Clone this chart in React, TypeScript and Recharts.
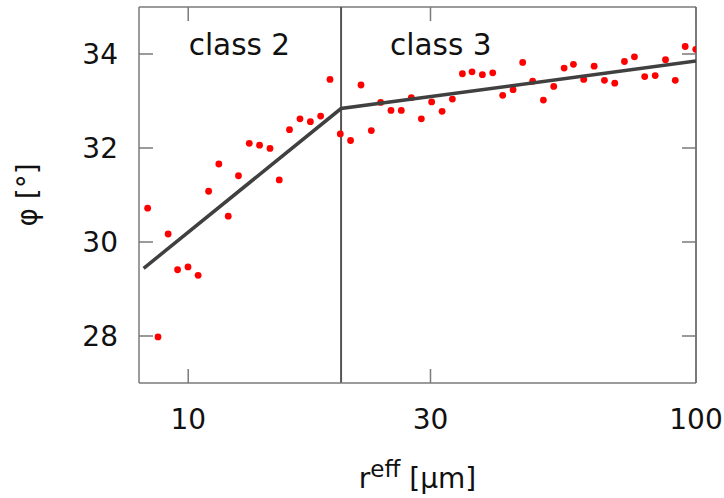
import React from "react";
import {
  ScatterChart,
  Scatter,
  XAxis,
  YAxis,
  ReferenceLine,
  Label,
} from "recharts";

// effective radius [µm]
const radius = [
  8.32, 8.72, 9.13, 9.53, 9.99, 10.46, 10.97, 11.49, 11.99, 12.56, 13.19,
  13.82, 14.49, 15.11, 15.83, 16.6, 17.4, 18.23, 19.02, 19.93, 20.88, 21.89,
  22.94, 23.93, 25.08, 26.28, 27.5, 28.78, 30.16, 31.62, 33.13, 34.67, 36.22,
  37.96, 39.78, 41.62, 43.63, 45.57, 47.68, 50.06, 52.46, 54.99, 57.36, 60.1,
  63.01, 66.02, 69.18, 72.29, 75.64, 79.25, 83.11, 87.09, 91.02, 95.22, 99.9,
];
// friction angle [°]
const phi = [
  30.72, 27.98, 30.17, 29.41, 29.47, 29.29, 31.08, 31.66, 30.55, 31.41, 32.1,
  32.06, 31.99, 31.32, 32.39, 32.62, 32.56, 32.68, 33.46, 32.3, 32.16, 33.34,
  32.37, 32.97, 32.8, 32.8, 33.07, 32.62, 32.98, 32.78, 33.04, 33.58, 33.62,
  33.56, 33.6, 33.12, 33.24, 33.82, 33.42, 33.02, 33.31, 33.7, 33.78, 33.46,
  33.74, 33.44, 33.38, 33.84, 33.94, 33.52, 33.54, 33.88, 33.44, 34.16, 34.1,
];
// piecewise fit: class 2 up to the break, class 3 after it
const fitR = [8.17, 20, 100];
const fitPhi = [29.44, 32.84, 33.85];
const classBreak = 20;

const xDomain = [8, 100];
const yDomain = [27, 35];
const xTicks = [10, 30, 100];
const yTicks = [28, 30, 32, 34];

const points = radius.map((r, i) => ({ r, phi: phi[i] }));
const fit = fitR.map((r, i) => ({ r, phi: fitPhi[i] }));

const W = 724;
const H = 498;
const M = { top: 7, right: 28, bottom: 0, left: 0 };
const Y_AXIS_W = 139;
const X_AXIS_H = 115;
const PLOT_TOP = M.top;
const PLOT_RIGHT = W - M.right;
const TICK = 14;

const FONT = "DejaVu Sans, sans-serif";
const FRAME = "#7a7a7a";

// label outside, tick marks inside on both the left and right border
const YTick = ({ x, y, payload }: any) => (
  <g>
    <line x1={x + 21} x2={x + 21 + TICK} y1={y} y2={y} stroke={FRAME} strokeWidth={1.5} />
    <line x1={PLOT_RIGHT} x2={PLOT_RIGHT - TICK} y1={y} y2={y} stroke={FRAME} strokeWidth={1.5} />
    <text x={x} y={y} dy={10.2} textAnchor="end" fontSize={28} fontFamily={FONT} fill="#111">
      {payload.value}
    </text>
  </g>
);

// label below, tick marks inside on both the bottom and top border
const XTick = ({ x, y, payload }: any) => (
  <g>
    <line x1={x} x2={x} y1={y - 26} y2={y - 26 - TICK} stroke={FRAME} strokeWidth={1.5} />
    <line x1={x} x2={x} y1={PLOT_TOP} y2={PLOT_TOP + TICK} stroke={FRAME} strokeWidth={1.5} />
    <text x={x} y={y + 20.4} textAnchor="middle" fontSize={28} fontFamily={FONT} fill="#111">
      {payload.value}
    </text>
  </g>
);

const Dot = ({ cx, cy }: any) => <circle cx={cx} cy={cy} r={3.4} fill="#ff0000" />;

const ClassLabels = ({ viewBox }: any) => (
  <g fontSize={29.5} fontFamily={FONT} fill="#111">
    <text x={viewBox.x - 51} y={viewBox.y + 48} textAnchor="end">
      class 2
    </text>
    <text x={viewBox.x + 49} y={viewBox.y + 48} textAnchor="start">
      class 3
    </text>
  </g>
);

const YTitle = ({ viewBox }: any) => {
  const cx = 37;
  const cy = viewBox.y + viewBox.height / 2;
  return (
    <text
      x={cx}
      y={cy}
      transform={`rotate(-90, ${cx}, ${cy})`}
      textAnchor="middle"
      fontSize={28}
      fontFamily={FONT}
      fill="#111"
    >
      φ [°]
    </text>
  );
};

const XTitle = ({ viewBox }: any) => (
  <text
    x={viewBox.x + viewBox.width / 2}
    y={488}
    textAnchor="middle"
    fontSize={28}
    fontFamily={FONT}
    fill="#111"
  >
    r
    <tspan fontSize={23} dy={-11}>
      eff
    </tspan>
    <tspan dy={11}> [µm]</tspan>
  </text>
);

export default function App() {
  return (
    <div style={{ position: "absolute", left: 0, top: 0, background: "#fff" }}>
      <ScatterChart width={W} height={H} margin={M}>
        <XAxis
          dataKey="r"
          type="number"
          scale="log"
          domain={xDomain}
          ticks={xTicks}
          allowDataOverflow
          height={X_AXIS_H}
          tickSize={0}
          tickMargin={26}
          tickLine={false}
          axisLine={{ stroke: FRAME, strokeWidth: 1.5 }}
          tick={<XTick />}
        >
          <Label content={<XTitle />} />
        </XAxis>
        <YAxis
          dataKey="phi"
          type="number"
          domain={yDomain}
          ticks={yTicks}
          allowDataOverflow
          width={Y_AXIS_W}
          tickSize={0}
          tickMargin={21}
          tickLine={false}
          axisLine={{ stroke: FRAME, strokeWidth: 1.5 }}
          tick={<YTick />}
        >
          <Label content={<YTitle />} />
        </YAxis>
        {/* top and right border */}
        <ReferenceLine y={yDomain[1]} stroke={FRAME} strokeWidth={1.5} />
        <ReferenceLine x={xDomain[1]} stroke="#222" strokeWidth={1.2} />
        <ReferenceLine
          x={classBreak}
          stroke="#555"
          strokeWidth={2}
          label={<ClassLabels />}
        />
        <Scatter data={points} shape={<Dot />} isAnimationActive={false} />
        <Scatter
          data={fit}
          line={{ stroke: "#404040", strokeWidth: 3.5 }}
          lineType="joint"
          shape={() => <g />}
          isAnimationActive={false}
        />
      </ScatterChart>
    </div>
  );
}
